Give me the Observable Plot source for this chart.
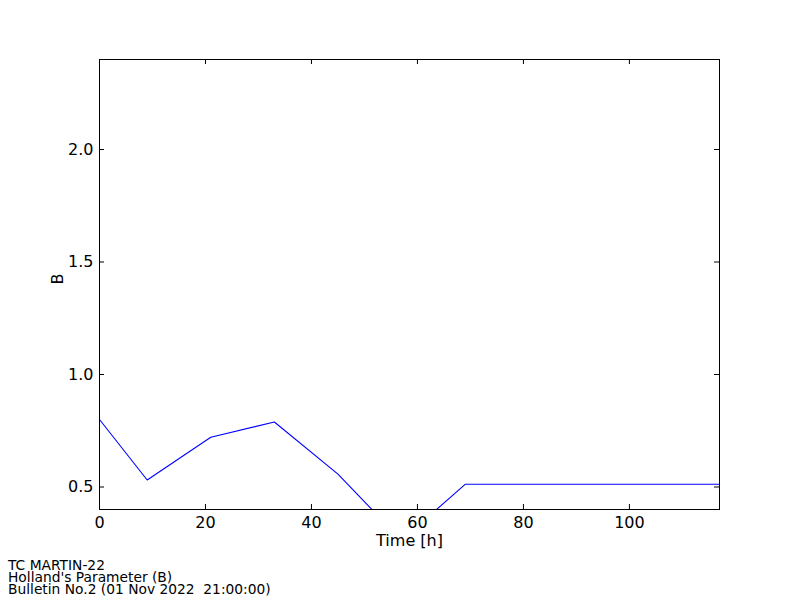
<!DOCTYPE html>
<html>
<head>
<meta charset="utf-8">
<script src="https://cdn.jsdelivr.net/npm/d3@7"></script>
<script src="https://cdn.jsdelivr.net/npm/@observablehq/plot@0.6"></script>
<style>
  html, body { margin: 0; padding: 0; background: #fff; }
  #wrap { position: relative; width: 800px; height: 600px; }
  #footer { position: absolute; left: 8px; top: 558.5px; font-family: "DejaVu Sans", sans-serif; font-size: 13.8px; line-height: 12.2px; color: #000; white-space: pre; }
</style>
</head>
<body>
<div id="wrap">
  <div id="chart"></div>
  <div id="footer"></div>
</div>
<script>
const hours = [0, 9, 21, 33, 45, 57, 69, 81, 93, 105, 117];
const bValues = [0.80, 0.531, 0.721, 0.789, 0.557, 0.263, 0.512, 0.512, 0.512, 0.512, 0.512];
const xTicks = [0, 20, 40, 60, 80, 100];
const yTicks = [0.5, 1.0, 1.5, 2.0];
const xLabel = "Time [h]";
const yLabel = "B";
const footerLines = ["TC MARTIN-22", "Holland's Parameter (B)", "Bulletin No.2 (01 Nov 2022  21:00:00)"];

const data = hours.map((h, i) => ({h, b: bValues[i]}));
const W = 800, H = 600, mL = 99, mR = 81, mT = 59, mB = 91;
const innerW = W - mL - mR, innerH = H - mT - mB;
const tl = 5;
const fs = 16;

const chart = Plot.plot({
  width: W, height: H,
  marginLeft: mL, marginRight: mR, marginTop: mT, marginBottom: mB,
  style: {fontFamily: "DejaVu Sans", fontSize: fs + "px", color: "black", background: "white"},
  x: {domain: [0, 117], ticks: xTicks, label: null},
  y: {domain: [0.4, 2.4], ticks: yTicks, label: null, tickFormat: d3.format(".1f")},
  marks: [
    Plot.line(data, {x: "h", y: "b", stroke: "#0000ff", strokeWidth: 1.1, clip: true}),
    Plot.tickX(xTicks, {x: d => d, insetTop: innerH - tl, stroke: "black"}),
    Plot.tickX(xTicks, {x: d => d, insetBottom: innerH - tl, stroke: "black"}),
    Plot.tickY(yTicks, {y: d => d, insetRight: innerW - tl, stroke: "black"}),
    Plot.tickY(yTicks, {y: d => d, insetLeft: innerW - tl, stroke: "black"}),
    Plot.axisX({ticks: xTicks, tickSize: 0, tickPadding: 7, label: null, fontSize: fs}),
    Plot.axisY({ticks: yTicks, tickSize: 0, tickPadding: 6, label: null, tickFormat: d3.format(".1f"), fontSize: fs}),
    Plot.text([xLabel], {frameAnchor: "bottom", dy: 31, text: d => d, fontSize: fs, lineAnchor: "middle"}),
    Plot.text([yLabel], {frameAnchor: "left", dx: -42, text: d => d, rotate: -90, fontSize: fs, lineAnchor: "middle"}),
    Plot.frame({stroke: "black", strokeWidth: 1})
  ]
});
document.getElementById("chart").appendChild(chart);
document.getElementById("footer").textContent = footerLines.join("\n");
</script>
</body>
</html>
